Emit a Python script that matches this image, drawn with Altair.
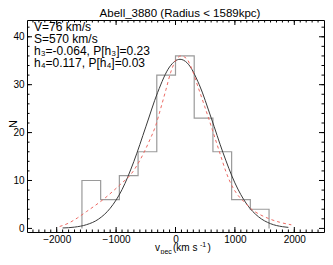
import altair as alt
import pandas as pd

# ---- data ----
bin_left = [-1575, -1260, -945, -630, -315, 0, 315, 630, 945, 1260]
bin_width = 315
counts = [10, 6, 11, 16, 32, 36, 23, 16, 6, 4]

gauss_v = [-1900, -1700, -1500, -1300, -1100, -900, -700, -500, -300, -100, 76,
           200, 400, 600, 800, 1000, 1200, 1400, 1600, 1800, 1900]
gauss_n = [0.09, 0.27, 0.77, 1.9, 4.2, 8.1, 14.0, 21.2, 28.4, 33.7, 35.3,
           34.5, 30.0, 23.1, 15.8, 9.5, 5.05, 2.4, 0.99, 0.36, 0.21]

gh_v = [-1950, -1800, -1650, -1500, -1350, -1200, -1050, -900, -750, -600, -450,
        -330, -250, -160, -80, 0, 90, 190, 280, 380, 490, 620, 700, 760, 850,
        950, 1040, 1150, 1280, 1420, 1580, 1750, 1950]
gh_n = [0.4, 1.1, 2.2, 3.5, 4.8, 6.2, 7.8, 9.5, 11.3, 14.2, 18.0,
        21.6, 25.0, 29.0, 32.6, 35.0, 36.0, 35.4, 33.1, 29.5, 25.5, 20.6, 17.5, 15.2, 11.8,
        8.9, 7.1, 5.6, 4.0, 2.9, 2.0, 1.3, 0.75]

x_major = [-2000, -1000, 0, 1000, 2000]
y_major = [0, 10, 20, 30, 40]
x_minor = [v for v in range(-2400, 2500, 100)]
y_minor = [v for v in range(2, 44, 2)]

title_text = "Abell_3880 (Radius < 1589kpc)"
info_lines = ["V=76 km/s", "S=570 km/s", "h\u2083=-0.064, P[h\u2083]=0.23", "h\u2084=0.117, P[h\u2084]=0.03"]

FONT = "Liberation Sans"
W, H = 297, 212

xs = alt.Scale(domain=[-2500, 2500], nice=False, zero=False)
ys = alt.Scale(domain=[-0.75, 43.5], nice=False, zero=False)
xaxis = alt.Axis(values=x_major, format="d", ticks=False, domain=False, grid=False, labelFontSize=10,
                 labelFont=FONT, labelColor="black", labelPadding=2, title="", labelFlush=False)
yaxis = alt.Axis(values=y_major, format="d", ticks=False, domain=False, grid=False, labelFontSize=10,
                 labelFont=FONT, labelColor="black", labelPadding=3, title="")


def X(f):
    return alt.X(f, scale=xs, axis=xaxis)


def Y(f):
    return alt.Y(f, scale=ys, axis=yaxis)


# histogram outline as step line
sv, sn = [bin_left[0]], [0]
for b, c in zip(bin_left, counts):
    sv.append(b)
    sn.append(c)
sv += [bin_left[-1] + bin_width, bin_left[-1] + bin_width]
sn += [counts[-1], 0]
step_df = pd.DataFrame({"v": sv, "n": sn, "i": list(range(len(sv)))})

hist = alt.Chart(step_df).mark_line(interpolate="step-after", color="#9a9a9a", strokeWidth=1.2).encode(
    x=X("v:Q"), y=Y("n:Q"), order="i:Q")

gauss = alt.Chart(pd.DataFrame({"v": gauss_v, "n": gauss_n})).mark_line(
    interpolate="monotone", color="#3a3a3a", strokeWidth=1).encode(x=X("v:Q"), y=Y("n:Q"))

gh = alt.Chart(pd.DataFrame({"v": gh_v, "n": gh_n})).mark_line(
    interpolate="monotone", color="#ec6a64", strokeWidth=1, strokeDash=[3, 3]).encode(x=X("v:Q"), y=Y("n:Q"))


# inward ticks
def xticks(vals, length):
    d = pd.DataFrame({"t": vals})
    bot = alt.Chart(d).mark_rule(color="black", strokeWidth=1).encode(
        x=X("t:Q"), y=alt.value(H), y2=alt.value(H - length))
    top = alt.Chart(d).mark_rule(color="black", strokeWidth=1).encode(
        x=X("t:Q"), y=alt.value(0), y2=alt.value(length))
    return [bot, top]


def yticks(vals, length):
    d = pd.DataFrame({"t": vals})
    left = alt.Chart(d).mark_rule(color="black", strokeWidth=1).encode(
        y=Y("t:Q"), x=alt.value(0), x2=alt.value(length))
    right = alt.Chart(d).mark_rule(color="black", strokeWidth=1).encode(
        y=Y("t:Q"), x=alt.value(W), x2=alt.value(W - length))
    return [left, right]


ticks = xticks(x_major, 5) + xticks(x_minor, 2.5) + yticks(y_major, 5) + yticks(y_minor, 2.5)


def txt(s, x, y, size, align="left", angle=0, baseline="alphabetic"):
    kw = dict(align=align, baseline=baseline, font=FONT, fontSize=size, color="black")
    if angle:
        kw["angle"] = angle
    return alt.Chart(pd.DataFrame({"s": [s]})).mark_text(**kw).encode(
        x=alt.value(x), y=alt.value(y), text="s:N")


texts = [txt(title_text, 153, -3.5, 11.5, align="center")]
for k, line in enumerate(info_lines):
    texts.append(txt(line, 7, 10.5 + 12 * k, 12))
texts += [
    txt("v", 128, H + 19, 10),
    txt("pec", 133.5, H + 21.5, 7),
    txt("(km s", 146, H + 19, 10),
    txt("-1", 173, H + 14.5, 7),
    txt(")", 180.5, H + 19, 10),
    txt("N", -13, 104, 11, align="center", angle=270, baseline="middle"),
]

chart = alt.layer(hist, gauss, gh, *ticks, *texts).properties(
    width=W, height=H,
    autosize=alt.AutoSizeParams(type="none"),
    padding={"left": 19, "top": 12, "right": 1, "bottom": 22},
    background="white",
).configure_view(stroke="black", strokeWidth=1)

chart.save("out.html", embed_options={"renderer": "svg", "actions": False})
